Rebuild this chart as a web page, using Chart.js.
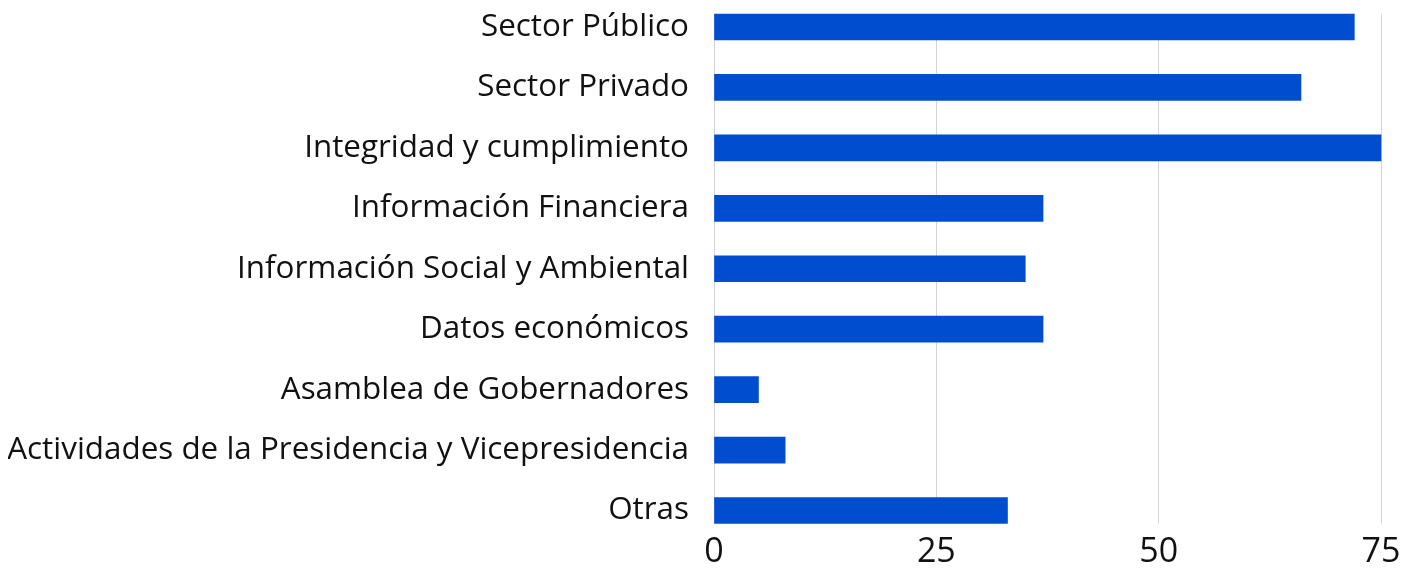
<!DOCTYPE html>
<html>
<head>
<meta charset="utf-8">
<script src="https://cdn.jsdelivr.net/npm/chart.js@4"></script>
<style>
  html, body { margin: 0; padding: 0; background: #fff; }
  #wrap { width: 1418px; height: 572px; }
</style>
</head>
<body>
<div id="wrap"><canvas id="chart"></canvas></div>
<script>
const categories = ["Sector Público", "Sector Privado", "Integridad y cumplimiento", "Información Financiera", "Información Social y Ambiental", "Datos económicos", "Asamblea de Gobernadores", "Actividades de la Presidencia y Vicepresidencia", "Otras"];
const values = [72, 66, 75, 37, 35, 37, 5, 8, 33];
const xTicks = [0, 25, 50, 75];

const gridColor = '#d4d4d4';
const labelFont = { family: 'Open Sans', size: 31.4 };
const tickFont = { family: 'Open Sans', size: 34 };

const data = {
    labels: categories,
    datasets: [{
        data: values,
        backgroundColor: '#004ecf',
        barThickness: 26,
        clip: false,
    }]
};

const config = {
    type: 'bar',
    data: data,
    options: {
        indexAxis: 'y',
        responsive: true,
        maintainAspectRatio: false,
        animation: false,
        layout: { padding: { top: 14, right: 37, bottom: 0, left: 8 } },
        plugins: {
            legend: { display: false },
            tooltip: { enabled: false }
        },
        scales: {
            x: {
                min: 0,
                max: 75,
                afterBuildTicks: (axis) => { axis.ticks = xTicks.map(v => ({ value: v })); },
                afterFit: (axis) => { axis.height = 61.5; },
                grid: { color: gridColor, lineWidth: 1, tickLength: 13 },
                border: { display: false },
                ticks: { color: '#111', font: tickFont, padding: 8 }
            },
            x2: {
                position: 'top',
                min: 0,
                max: 75,
                afterBuildTicks: (axis) => { axis.ticks = xTicks.map(v => ({ value: v })); },
                grid: { color: gridColor, lineWidth: 1, tickLength: 13, drawOnChartArea: false },
                border: { display: false },
                ticks: { display: false }
            },
            y: {
                offset: false,
                afterFit: (axis) => { axis.paddingTop = 0; axis.paddingBottom = 0; axis.width = 706; },
                grid: { display: false },
                border: { display: false },
                ticks: { color: '#111', font: labelFont, padding: 17 }
            }
        }
    }
};

var chart = new Chart(document.getElementById('chart'), config);
</script>
</body>
</html>
